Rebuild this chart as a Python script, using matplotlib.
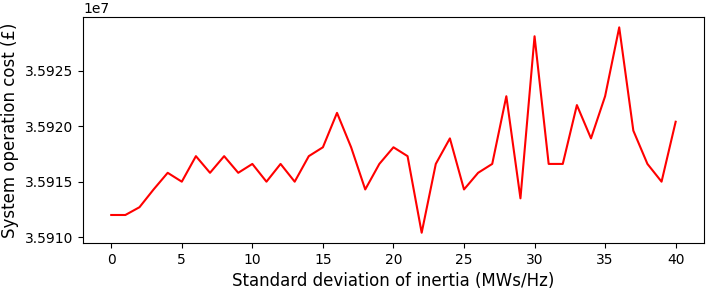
import matplotlib
matplotlib.use("Agg")
import matplotlib.pyplot as plt

# standard deviation of inertia (MWs/Hz)
inercia = list(range(0, 41))

# system operation cost (x 1e7)
coste = [3.59120, 3.59120, 3.59127, 3.59143, 3.59158, 3.59150, 3.59173, 3.59158,
         3.59173, 3.59158, 3.59166, 3.59150, 3.59166, 3.59150, 3.59173, 3.59181,
         3.59212, 3.59181, 3.59143, 3.59166, 3.59181, 3.59173, 3.59104, 3.59166,
         3.59189, 3.59143, 3.59158, 3.59166, 3.59227, 3.59135, 3.59281, 3.59166,
         3.59166, 3.59219, 3.59189, 3.59227, 3.59289, 3.59196, 3.59166, 3.59150,
         3.59204]
coste = [c * 1e7 for c in coste]

fig, ax = plt.subplots(figsize=(7.06, 2.9), dpi=100)
fig.subplots_adjust(left=0.1176, right=0.997, top=0.941, bottom=0.162)

ax.plot(inercia, coste, color="red", linewidth=1.5)
ax.set_xticks([0, 5, 10, 15, 20, 25, 30, 35, 40])
ax.set_xlabel("Standard deviation of inertia (MWs/Hz)", fontsize=12)
ax.set_ylabel("System operation cost (£)", fontsize=12)
ax.tick_params(labelsize=10)

plt.savefig("out.png", dpi=100)
